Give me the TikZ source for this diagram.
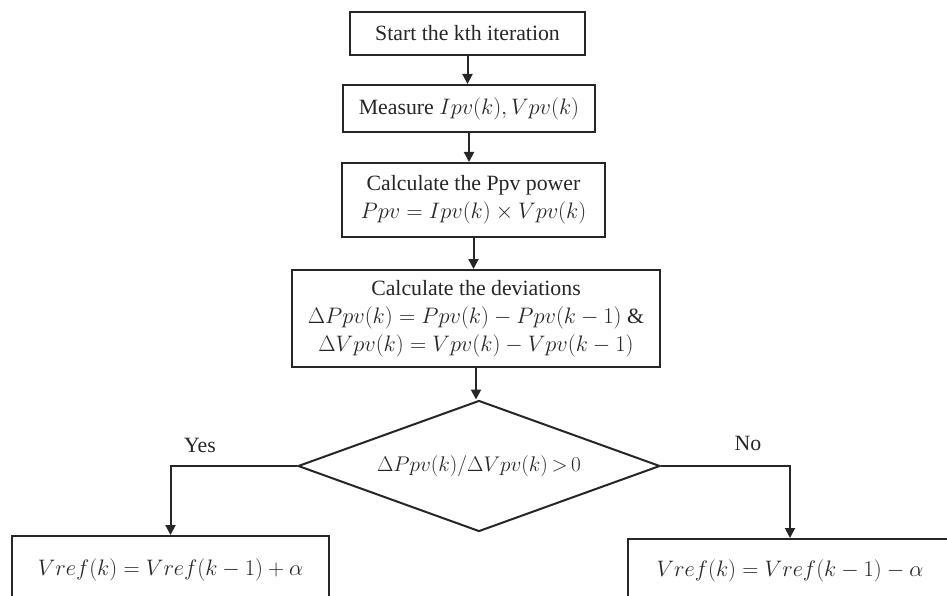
\documentclass[tikz,border=0pt]{standalone}
\usepackage{fix-cm}
\usepackage{fontspec}
\setmainfont{Liberation Serif}
\usetikzlibrary{arrows.meta,shapes.geometric}

% formulas are set a little larger than the running text
\newcommand\fml[1]{{\fontsize{22.4}{28}\selectfont\(#1\)}}
% the test in the decision is set a bit tighter
\newcommand\testfml[1]{{\fontsize{21.2}{28}\selectfont\thickmuskip=3mu\(#1\)}}

\tikzset{
  ink/.style={draw=black!85, line width=2pt},
  stepbox/.style={ink, rectangle, inner sep=0pt, align=center,
    text=black!85, font=\fontsize{21.8}{28}\selectfont},
  testbox/.style={ink, diamond, aspect=2.76, inner sep=0pt, align=center,
    text=black!85, font=\fontsize{21.8}{28}\selectfont},
  flow/.style={ink, -{Triangle[length=10pt,width=10pt]}},
  lbl/.style={text=black!85, font=\fontsize{21.8}{28}\selectfont, inner sep=0pt}
}

\begin{document}
\begin{tikzpicture}[x=1pt,y=-1pt]
  \useasboundingbox (0,0) rectangle (947,596);
  \clip (0,0) rectangle (947,596);

  % process steps
  \node[stepbox, minimum width=235pt, minimum height=43pt] (b1) at (467.5,33.5)
    {Start the kth iteration};
  \node[stepbox, minimum width=252pt, minimum height=47pt] (b2) at (469,108.5)
    {Measure \fml{Ipv(k),Vpv(k)}};
  \node[stepbox, minimum width=263pt, minimum height=74pt] (b3) at (473.5,200)
    {Calculate the Ppv power\\ \fml{Ppv = Ipv(k)\times Vpv(k)}};
  \node[stepbox, minimum width=368pt, minimum height=97pt] (b4) at (476,318.5)
    {Calculate the deviations\\
     \fml{\Delta Ppv(k) = Ppv(k) - Ppv(k-1)} \&\\
     \fml{\Delta Vpv(k) = Vpv(k) - Vpv(k-1)}};

  % decision
  \node[testbox, minimum width=362pt, minimum height=131pt] (d) at (479,466)
    {\testfml{\Delta Ppv(k)/\Delta Vpv(k) > 0}};

  % update of the reference voltage
  \node[stepbox, minimum width=317pt, minimum height=68pt] (L) at (170.5,570)
    {\fml{Vref(k) = Vref(k-1) + \alpha}};
  \node[stepbox, minimum width=324pt, minimum height=64pt] (R) at (790,571)
    {\fml{Vref(k) = Vref(k-1) - \alpha}};

  % connectors
  \draw[flow] (b1.south) -- (b1.south |- b2.north);
  \draw[flow] (b2.south) -- (b2.south |- b3.north);
  \draw[flow] (b3.south) -- (b3.south |- b4.north);
  \draw[flow] (b4.south) -- (b4.south |- d.north);
  \draw[flow] (d.west) -| (L.north);
  \draw[flow] (d.east) -| (R.north);

  \node[lbl] (yes) at (200,445) {Yes};
  \node[lbl] (no) at (748,443) {No};
\end{tikzpicture}
\end{document}
